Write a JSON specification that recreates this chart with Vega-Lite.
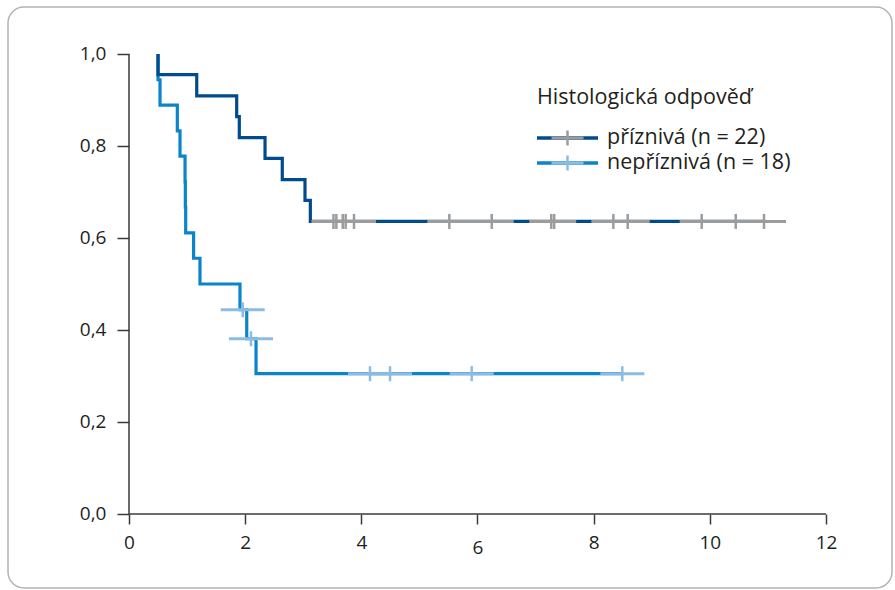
{
  "$schema": "https://vega.github.io/schema/vega-lite/v6.json",
  "width": 884,
  "height": 581,
  "autosize": {"type": "none"},
  "padding": {"left": 8, "top": 7, "right": 3, "bottom": 2},
  "background": "white",
  "config": {
    "font": "Open Sans",
    "view": {"stroke": "#b3b3b3", "strokeWidth": 1.5, "cornerRadius": 16},
    "axis": {
      "domain": false,
      "grid": false,
      "labelFont": "Open Sans",
      "labelFontSize": 19,
      "labelColor": "#231f20",
      "tickColor": "#3a3a3a",
      "tickWidth": 1.5
    },
    "legend": {
      "padding": 0,
      "titleFont": "Open Sans",
      "titleFontSize": 21.5,
      "titleFontWeight": "normal",
      "titleColor": "#231f20",
      "titleLimit": 600,
      "labelFont": "Open Sans",
      "labelFontSize": 21.5,
      "labelColor": "#231f20",
      "labelLimit": 600
    }
  },
  "datasets": {
    "curves": [
      {"i": 1, "t": 0.5, "s": 1.0, "group": "nepříznivá (n = 18)"},
      {"i": 2, "t": 0.5, "s": 0.944, "group": "nepříznivá (n = 18)"},
      {"i": 3, "t": 0.534, "s": 0.889, "group": "nepříznivá (n = 18)"},
      {"i": 4, "t": 0.832, "s": 0.833, "group": "nepříznivá (n = 18)"},
      {"i": 5, "t": 0.878, "s": 0.778, "group": "nepříznivá (n = 18)"},
      {"i": 6, "t": 0.965, "s": 0.722, "group": "nepříznivá (n = 18)"},
      {"i": 7, "t": 0.97, "s": 0.667, "group": "nepříznivá (n = 18)"},
      {"i": 8, "t": 0.976, "s": 0.611, "group": "nepříznivá (n = 18)"},
      {"i": 9, "t": 1.112, "s": 0.556, "group": "nepříznivá (n = 18)"},
      {"i": 10, "t": 1.222, "s": 0.5, "group": "nepříznivá (n = 18)"},
      {"i": 11, "t": 1.911, "s": 0.444, "group": "nepříznivá (n = 18)"},
      {"i": 12, "t": 2.027, "s": 0.381, "group": "nepříznivá (n = 18)"},
      {"i": 13, "t": 2.187, "s": 0.305, "group": "nepříznivá (n = 18)"},
      {"i": 14, "t": 8.493, "s": 0.305, "group": "nepříznivá (n = 18)"},
      {"i": 15, "t": 0.5, "s": 1.0, "group": "příznivá (n = 22)"},
      {"i": 16, "t": 0.5, "s": 0.955, "group": "příznivá (n = 22)"},
      {"i": 17, "t": 1.166, "s": 0.909, "group": "příznivá (n = 22)"},
      {"i": 18, "t": 1.854, "s": 0.864, "group": "příznivá (n = 22)"},
      {"i": 19, "t": 1.899, "s": 0.818, "group": "příznivá (n = 22)"},
      {"i": 20, "t": 2.342, "s": 0.773, "group": "příznivá (n = 22)"},
      {"i": 21, "t": 2.639, "s": 0.727, "group": "příznivá (n = 22)"},
      {"i": 22, "t": 3.03, "s": 0.682, "group": "příznivá (n = 22)"},
      {"i": 23, "t": 3.122, "s": 0.636, "group": "příznivá (n = 22)"},
      {"i": 24, "t": 10.933, "s": 0.636, "group": "příznivá (n = 22)"}
    ],
    "censors": [
      {"t": 3.52, "s": 0.636, "group": "příznivá (n = 22)"},
      {"t": 3.57, "s": 0.636, "group": "příznivá (n = 22)"},
      {"t": 3.68, "s": 0.636, "group": "příznivá (n = 22)"},
      {"t": 3.73, "s": 0.636, "group": "příznivá (n = 22)"},
      {"t": 3.874, "s": 0.636, "group": "příznivá (n = 22)"},
      {"t": 5.515, "s": 0.636, "group": "příznivá (n = 22)"},
      {"t": 6.245, "s": 0.636, "group": "příznivá (n = 22)"},
      {"t": 7.27, "s": 0.636, "group": "příznivá (n = 22)"},
      {"t": 7.32, "s": 0.636, "group": "příznivá (n = 22)"},
      {"t": 8.339, "s": 0.636, "group": "příznivá (n = 22)"},
      {"t": 8.586, "s": 0.636, "group": "příznivá (n = 22)"},
      {"t": 9.86, "s": 0.636, "group": "příznivá (n = 22)"},
      {"t": 10.446, "s": 0.636, "group": "příznivá (n = 22)"},
      {"t": 10.933, "s": 0.636, "group": "příznivá (n = 22)"},
      {"t": 1.958, "s": 0.444, "group": "nepříznivá (n = 18)"},
      {"t": 2.1, "s": 0.381, "group": "nepříznivá (n = 18)"},
      {"t": 4.149, "s": 0.305, "group": "nepříznivá (n = 18)"},
      {"t": 4.494, "s": 0.305, "group": "nepříznivá (n = 18)"},
      {"t": 5.9, "s": 0.305, "group": "nepříznivá (n = 18)"},
      {"t": 8.493, "s": 0.305, "group": "nepříznivá (n = 18)"}
    ]
  },
  "layer": [
    {
      "data": {"name": "curves"},
      "mark": {"type": "line", "interpolate": "step-after", "strokeWidth": 3.2, "strokeJoin": "miter", "strokeCap": "butt"},
      "encoding": {
        "x": {
          "field": "t", "type": "quantitative",
          "scale": {"domain": [-2.0832, 13.1363], "nice": false, "zero": false},
          "axis": {
            "orient": "bottom", "offset": -74, "title": null,
            "values": [0, 2, 4, 6, 8, 10, 12], "format": "d",
            "tickSize": 10,
            "labelPadding": {"condition": {"test": "datum.value === 6", "value": 14}, "value": 9}
          }
        },
        "y": {
          "field": "s", "type": "quantitative",
          "scale": {"domain": [-0.16087, 1.10217], "nice": false, "zero": false},
          "axis": {
            "orient": "left", "offset": -121, "title": null,
            "values": [0, 0.2, 0.4, 0.6, 0.8, 1.0],
            "labelExpr": "replace(format(datum.value, '.1f'), '.', ',')",
            "tickSize": 12, "labelPadding": 11
          }
        },
        "order": {"field": "i", "type": "quantitative"},
        "stroke": {
          "field": "group", "type": "nominal",
          "scale": {"domain": ["příznivá (n = 22)", "nepříznivá (n = 18)"], "range": ["#004b8d", "#0a85c9"]},
          "legend": {
            "orient": "none", "legendX": 529, "legendY": 80,
            "title": "Histologická odpověď",
            "titlePadding": 17,
            "clipHeight": 25,
            "symbolType": "M-3.05,0H3.05",
            "symbolSize": 400,
            "symbolStrokeWidth": 3.5,
            "symbolOffset": 18.5,
            "labelOffset": 27.5,
            "rowPadding": 0
          }
        }
      }
    },
    {
      "data": {"values": [{}]},
      "mark": {"type": "rule", "color": "#3a3a3a", "strokeWidth": 1.5},
      "encoding": {
        "x": {"datum": 0},
        "x2": {"datum": 12},
        "y": {"datum": 0}
      }
    },
    {
      "data": {"values": [{}]},
      "mark": {"type": "rule", "color": "#3a3a3a", "strokeWidth": 1.5},
      "encoding": {
        "x": {"datum": 0},
        "y": {"datum": 0},
        "y2": {"datum": 1}
      }
    },
    {
      "data": {"name": "censors"},
      "mark": {"type": "tick", "orient": "horizontal", "size": 44, "thickness": 3, "opacity": 1},
      "encoding": {
        "x": {"field": "t", "type": "quantitative"},
        "y": {"field": "s", "type": "quantitative"},
        "color": {
          "field": "group", "type": "nominal",
          "sort": ["příznivá (n = 22)", "nepříznivá (n = 18)"],
          "scale": {"range": ["#9c9c9c", "#8bbde4"]},
          "legend": {
            "orient": "none", "legendX": 529, "legendY": 80,
            "zindex": 2,
            "title": " ",
            "titleColor": "transparent",
            "labelExpr": "''",
            "labelColor": "transparent",
            "titlePadding": 17,
            "clipHeight": 25,
            "symbolType": "M-1.6,-0.15H-0.125V-0.75H0.125V-0.15H1.6V0.15H0.125V0.75H-0.125V0.15H-1.6Z",
            "symbolSize": 400,
            "symbolStrokeWidth": 3.5,
            "symbolStrokeColor": "transparent",
            "symbolOpacity": 1,
            "symbolOffset": 18.5,
            "labelOffset": 27.5,
            "rowPadding": 0
          }
        }
      }
    },
    {
      "data": {"name": "censors"},
      "mark": {"type": "tick", "orient": "vertical", "size": 15, "thickness": 2.5, "opacity": 1},
      "encoding": {
        "x": {"field": "t", "type": "quantitative"},
        "y": {"field": "s", "type": "quantitative"},
        "color": {
          "field": "group", "type": "nominal",
          "sort": ["příznivá (n = 22)", "nepříznivá (n = 18)"]
        }
      }
    }
  ]
}
